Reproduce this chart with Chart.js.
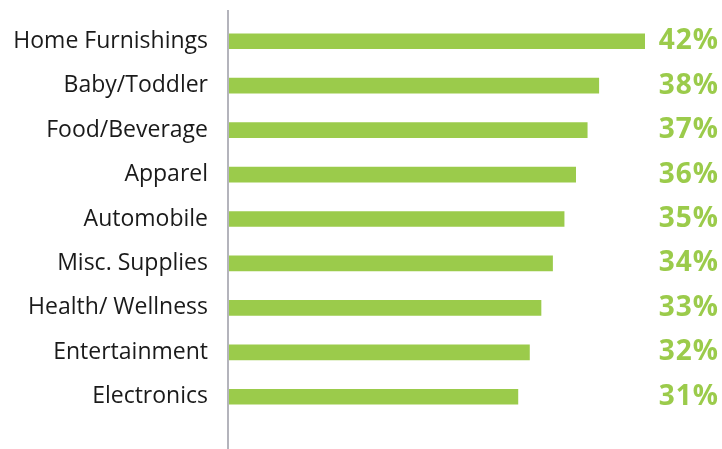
<!DOCTYPE html>
<html>
<head>
<meta charset="utf-8">
<script src="https://cdn.jsdelivr.net/npm/chart.js@4"></script>
<style>
  html, body { margin: 0; padding: 0; background: #fff; }
  #wrap { width: 722px; height: 449px; }
</style>
</head>
<body>
<div id="wrap"><canvas id="chart"></canvas></div>
<script>
const categories = ['Home Furnishings', 'Baby/Toddler', 'Food/Beverage', 'Apparel', 'Automobile',
  'Misc. Supplies', 'Health/ Wellness', 'Entertainment', 'Electronics'];
const shares = [42, 38, 37, 36, 35, 34, 33, 32, 31];
const shareLabels = ['42%', '38%', '37%', '36%', '35%', '34%', '33%', '32%', '31%'];

const green = '#9bcb4b';

// value labels sit flush right, axis line runs the full height
const extras = {
  id: 'extras',
  afterDatasetsDraw(chart) {
    const ctx = chart.ctx;
    const meta = chart.getDatasetMeta(0);
    ctx.save();
    ctx.fillStyle = green;
    ctx.font = 'bold 28px "Open Sans"';
    ctx.letterSpacing = '1px';
    ctx.textAlign = 'right';
    ctx.textBaseline = 'middle';
    meta.data.forEach((bar, i) => {
      ctx.fillText(shareLabels[i], chart.width - 3, bar.y);
    });
    ctx.strokeStyle = '#b4b4bc';
    ctx.lineWidth = 2;
    ctx.beginPath();
    ctx.moveTo(chart.chartArea.left - 1, 10);
    ctx.lineTo(chart.chartArea.left - 1, chart.height);
    ctx.stroke();
    ctx.restore();
  }
};

new Chart(document.getElementById('chart'), {
  type: 'bar',
  data: {
    labels: categories,
    datasets: [{
      data: shares,
      backgroundColor: green,
      barThickness: 15
    }]
  },
  options: {
    indexAxis: 'y',
    responsive: true,
    maintainAspectRatio: false,
    animation: false,
    layout: {
      padding: {top: 19, bottom: 30, right: 77, left: 0}
    },
    plugins: {
      legend: {display: false},
      tooltip: {enabled: false}
    },
    scales: {
      x: {
        display: false,
        min: 6,
        max: 42
      },
      y: {
        afterFit: function(scale) {
          scale.width = 229;
          scale.paddingTop = 0;
          scale.paddingBottom = 0;
        },
        grid: {display: false, drawTicks: false},
        border: {display: false},
        ticks: {
          padding: 21,
          color: '#1a1a1a',
          font: {family: '"Open Sans"', size: 23}
        }
      }
    }
  },
  plugins: [extras]
});
</script>
</body>
</html>
